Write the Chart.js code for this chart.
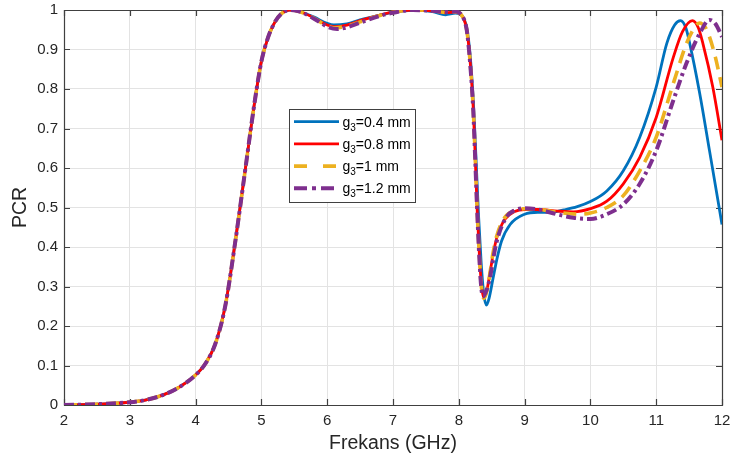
<!DOCTYPE html>
<html>
<head>
<meta charset="utf-8">
<script src="https://cdn.jsdelivr.net/npm/chart.js@4.4.1/dist/chart.umd.min.js"></script>
<style>
  html, body { margin: 0; padding: 0; background: #ffffff; }
  #wrap { width: 733px; height: 463px; }
</style>
</head>
<body>
<div id="wrap"><canvas id="c" width="733" height="463"></canvas></div>
<script>
// ---------- data ----------
// shared rising edge, identical for all four curves
const freqRise = [2, 2.5, 3, 3.25, 3.5, 3.75, 4, 4.15, 4.3, 4.45, 4.6, 4.75, 4.9, 5.0, 5.1, 5.2, 5.3, 5.43, 5.6];
const pcrRise  = [0, 0.002, 0.007, 0.013, 0.025, 0.045, 0.076, 0.105, 0.155, 0.25, 0.41, 0.59, 0.77, 0.87, 0.93, 0.968, 0.99, 1.0, 0.995];

const freqBlue = [5.8, 6.0, 6.1, 6.3, 6.5, 6.8, 7.0, 7.3, 7.6, 7.8, 7.95, 8.05, 8.12, 8.17, 8.22, 8.26, 8.3, 8.34, 8.38, 8.42, 8.46, 8.52, 8.58, 8.65, 8.78, 9.0, 9.2, 9.4, 9.6, 9.8, 10.0, 10.25, 10.5, 10.75, 11.0, 11.16, 11.28, 11.37, 11.45, 11.51, 11.66, 11.81, 12.0];
const pcrBlue  = [0.982, 0.966, 0.962, 0.965, 0.975, 0.987, 0.994, 0.999, 0.996, 0.988, 0.992, 0.985, 0.955, 0.89, 0.77, 0.63, 0.48, 0.36, 0.28, 0.253, 0.27, 0.32, 0.37, 0.415, 0.457, 0.483, 0.488, 0.488, 0.494, 0.502, 0.515, 0.542, 0.593, 0.678, 0.805, 0.915, 0.962, 0.973, 0.955, 0.915, 0.79, 0.644, 0.457];

const freqRed = [5.8, 6.0, 6.1, 6.3, 6.5, 6.8, 7.0, 7.3, 7.6, 7.8, 7.95, 8.05, 8.12, 8.17, 8.22, 8.25, 8.28, 8.31, 8.34, 8.38, 8.42, 8.47, 8.52, 8.58, 8.7, 8.85, 9.0, 9.2, 9.5, 9.74, 10.0, 10.25, 10.5, 10.75, 11.0, 11.26, 11.4, 11.55, 11.64, 11.71, 11.86, 12.0];
const pcrRed  = [0.98, 0.962, 0.958, 0.962, 0.973, 0.987, 0.995, 1.0, 0.998, 0.993, 0.995, 0.985, 0.95, 0.875, 0.75, 0.625, 0.49, 0.39, 0.31, 0.272, 0.285, 0.33, 0.38, 0.425, 0.47, 0.49, 0.495, 0.495, 0.491, 0.489, 0.497, 0.516, 0.56, 0.627, 0.728, 0.88, 0.945, 0.973, 0.955, 0.915, 0.805, 0.67];

const freqYellow = [5.8, 6.0, 6.1, 6.3, 6.5, 6.8, 7.0, 7.3, 7.6, 7.8, 7.95, 8.05, 8.12, 8.17, 8.22, 8.25, 8.28, 8.31, 8.34, 8.38, 8.42, 8.47, 8.52, 8.58, 8.7, 8.85, 9.0, 9.2, 9.5, 9.85, 10.0, 10.25, 10.5, 10.75, 11.0, 11.26, 11.46, 11.58, 11.66, 11.75, 11.81, 11.9, 12.0];
const pcrYellow  = [0.979, 0.96, 0.955, 0.959, 0.97, 0.986, 0.994, 1.0, 0.998, 0.994, 0.995, 0.985, 0.95, 0.873, 0.748, 0.623, 0.49, 0.385, 0.305, 0.27, 0.285, 0.33, 0.385, 0.43, 0.475, 0.492, 0.497, 0.496, 0.488, 0.483, 0.486, 0.5, 0.53, 0.593, 0.678, 0.814, 0.915, 0.955, 0.967, 0.955, 0.932, 0.88, 0.805];

const freqPurple = [5.8, 6.0, 6.15, 6.3, 6.5, 6.8, 7.0, 7.3, 7.6, 7.8, 7.95, 8.05, 8.12, 8.17, 8.22, 8.25, 8.28, 8.31, 8.34, 8.37, 8.42, 8.47, 8.57, 8.72, 8.85, 9.0, 9.2, 9.49, 9.74, 10.0, 10.25, 10.5, 10.75, 11.0, 11.26, 11.46, 11.66, 11.81, 11.9, 12.0];
const pcrPurple  = [0.978, 0.958, 0.952, 0.956, 0.968, 0.985, 0.993, 1.0, 0.998, 0.995, 0.996, 0.985, 0.95, 0.87, 0.745, 0.62, 0.49, 0.38, 0.3, 0.275, 0.29, 0.32, 0.41, 0.475, 0.493, 0.498, 0.495, 0.483, 0.474, 0.471, 0.483, 0.508, 0.56, 0.644, 0.771, 0.865, 0.94, 0.975, 0.965, 0.932];

const gapValues   = ['0.4', '0.8', '1', '1.2'];
const xTickValues = [2, 3, 4, 5, 6, 7, 8, 9, 10, 11, 12];
const yTickLabels = ['0', '0.1', '0.2', '0.3', '0.4', '0.5', '0.6', '0.7', '0.8', '0.9', '1'];
const xTitle = 'Frekans (GHz)';
const yTitle = 'PCR';

// ---------- build ----------
function series(fTail, pTail) {
  const f = freqRise.concat(fTail);
  const p = pcrRise.concat(pTail);
  return f.map((v, i) => ({ x: v, y: p[i] }));
}

const FONT = '"Liberation Sans", Arial, Helvetica, sans-serif';
const TXT = '#262626';

const styles = [
  { color: '#0072BD', width: 2.8, dash: [],             legendDash: [],              order: 4 },
  { color: '#FF0000', width: 2.8, dash: [],             legendDash: [],              order: 3 },
  { color: '#EDB120', width: 3.6, dash: [13, 8],        legendDash: [13, 16],        order: 2 },
  { color: '#7E2F8E', width: 4,   dash: [10, 4, 3, 4],  legendDash: [13, 5, 4, 5],   order: 1 }
];
const seriesData = [
  series(freqBlue, pcrBlue),
  series(freqRed, pcrRed),
  series(freqYellow, pcrYellow),
  series(freqPurple, pcrPurple)
];

const datasets = seriesData.map((d, i) => ({
  label: 'g₃=' + gapValues[i] + ' mm',
  data: d,
  borderColor: styles[i].color,
  backgroundColor: styles[i].color,
  borderWidth: styles[i].width,
  borderDash: styles[i].dash,
  pointRadius: 0,
  fill: false,
  cubicInterpolationMode: 'monotone',
  order: styles[i].order,
  borderCapStyle: 'butt'
}));

// box + inward ticks (MATLAB style)
const boxPlugin = {
  id: 'boxPlugin',
  beforeDatasetsDraw(chart) {
    const { ctx, chartArea: a, scales } = chart;
    ctx.save();
    ctx.strokeStyle = '#404040';
    ctx.lineWidth = 1.2;
    const L = 6;
    ctx.beginPath();
    xTickValues.forEach(v => {
      const px = Math.round(scales.x.getPixelForValue(v)) + 0.5;
      ctx.moveTo(px, a.bottom); ctx.lineTo(px, a.bottom - L);
      ctx.moveTo(px, a.top);    ctx.lineTo(px, a.top + L);
    });
    yTickLabels.forEach(t => {
      const py = Math.round(scales.y.getPixelForValue(parseFloat(t))) + 0.5;
      ctx.moveTo(a.left, py);  ctx.lineTo(a.left + L, py);
      ctx.moveTo(a.right, py); ctx.lineTo(a.right - L, py);
    });
    ctx.stroke();
    ctx.beginPath();
    ctx.rect(Math.round(a.left) + 0.5, Math.round(a.top) + 0.5, Math.round(a.right - a.left), Math.round(a.bottom - a.top));
    ctx.stroke();
    ctx.restore();
  }
};

// legend with subscript
const legendPlugin = {
  id: 'legendPlugin',
  afterDatasetsDraw(chart) {
    const { ctx } = chart;
    const bx = 289.5, by = 109.5, bw = 126, bh = 93;
    ctx.save();
    ctx.fillStyle = '#ffffff';
    ctx.fillRect(bx, by, bw, bh);
    ctx.strokeStyle = '#404040';
    ctx.lineWidth = 1;
    ctx.strokeRect(bx, by, bw, bh);
    chart.data.datasets.forEach((ds, i) => {
      const y = 121.7 + i * 22.2;
      ctx.beginPath();
      ctx.setLineDash(styles[i].legendDash);
      ctx.strokeStyle = styles[i].color;
      ctx.lineWidth = styles[i].width;
      ctx.moveTo(294, y); ctx.lineTo(339, y);
      ctx.stroke();
      ctx.setLineDash([]);
      ctx.fillStyle = '#000000';
      ctx.textBaseline = 'alphabetic';
      ctx.textAlign = 'left';
      let x = 342.5;
      const base = y + 5;
      ctx.font = '14px ' + FONT;
      ctx.fillText('g', x, base);
      x += ctx.measureText('g').width;
      ctx.font = '10px ' + FONT;
      ctx.fillText('3', x, base + 4);
      x += ctx.measureText('3').width;
      ctx.font = '14px ' + FONT;
      ctx.fillText('=' + gapValues[i] + ' mm', x, base);
    });
    ctx.restore();
  }
};

new Chart(document.getElementById('c'), {
  type: 'line',
  data: { datasets },
  options: {
    responsive: false,
    devicePixelRatio: 1,
    animation: false,
    layout: { padding: { top: 10, right: 11, left: 0, bottom: 0 } },
    plugins: { legend: { display: false }, tooltip: { enabled: false } },
    scales: {
      x: {
        type: 'linear',
        min: 2, max: 12,
        afterFit(scale) { scale.height = 58; scale.paddingLeft = 0; scale.paddingRight = 0; },
        afterBuildTicks(scale) { scale.ticks = xTickValues.map(v => ({ value: v })); },
        ticks: {
          stepSize: 1,
          font: { family: FONT, size: 15 },
          color: TXT,
          padding: 7,
          maxRotation: 0,
          callback: v => String(v)
        },
        grid: { color: '#e3e3e3', lineWidth: 1, drawTicks: false },
        border: { display: false },
        title: { display: true, text: xTitle, font: { family: FONT, size: 19.5 }, color: TXT, padding: { top: 2, bottom: 8 } }
      },
      y: {
        type: 'linear',
        min: 0, max: 1,
        afterFit(scale) { scale.width = 64; scale.paddingTop = 0; scale.paddingBottom = 0; },
        afterBuildTicks(scale) { scale.ticks = yTickLabels.map(t => ({ value: parseFloat(t) })); },
        ticks: {
          font: { family: FONT, size: 15 },
          color: TXT,
          padding: 6,
          callback: (v, i) => yTickLabels[i]
        },
        grid: { color: '#e3e3e3', lineWidth: 1, drawTicks: false },
        border: { display: false },
        title: { display: true, text: yTitle, font: { family: FONT, size: 19.5 }, color: TXT, padding: { top: 9, bottom: 0 } }
      }
    }
  },
  plugins: [boxPlugin, legendPlugin]
});
</script>
</body>
</html>
